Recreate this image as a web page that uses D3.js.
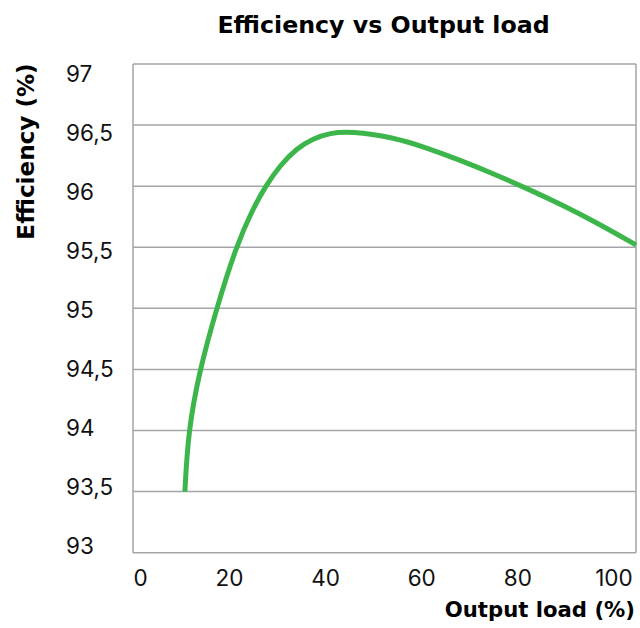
<!DOCTYPE html>
<html>
<head>
<meta charset="utf-8">
<script src="https://cdn.jsdelivr.net/npm/d3@7"></script>
<style>
  html, body { margin: 0; padding: 0; background: #fff; }
  svg { display: block; }
  text { font-family: "Inter", "Noto Sans", sans-serif; fill: #111; }
  text.bold { font-family: "DejaVu Sans", sans-serif; font-weight: 700; fill: #000; }
</style>
</head>
<body>
<svg id="chart" width="640" height="628"></svg>
<script>
// ---- data ----
const title = "Efficiency vs Output load";
const xTitle = "Output load (%)";
const yTitle = "Efficiency (%)";
const xTicks = [0, 20, 40, 60, 80, 100];
const yTicks = [97, 96.5, 96, 95.5, 95, 94.5, 94, 93.5, 93];
const loadPct = [10.8, 11.5, 13.9, 17.4, 21.4, 25.0, 27.6, 30.6, 34.1, 37.5, 41.0, 45.2, 54.2, 61.1, 68.1, 75.0, 82.2, 88.9, 95.8, 104.7];
const efficiency = [93.5, 94.0, 94.5, 95.0, 95.5, 95.82, 96.0, 96.17, 96.31, 96.39, 96.435, 96.45, 96.40, 96.314, 96.212, 96.102, 95.978, 95.854, 95.717, 95.52];

// ---- layout ----
const svg = d3.select("#chart");
const pLeft = 133, pRight = 636, pTop = 64, pBottom = 552.7;
const x = d3.scaleLinear().domain([0, 104.7]).range([pLeft, pRight]);
const y = d3.scaleLinear().domain([93, 97]).range([pBottom, pTop]);
const yLabel = d3.scaleLinear().domain([93, 97]).range([545, 73]);
const gridColor = "#a3a5a8";

// grid lines
svg.append("g").selectAll("line").data(yTicks).join("line")
  .attr("x1", pLeft).attr("x2", pRight)
  .attr("y1", d => y(d)).attr("y2", d => y(d))
  .attr("stroke", gridColor).attr("stroke-width", 1.5);

// frame: left, right
svg.append("line").attr("x1", pLeft).attr("x2", pLeft).attr("y1", pTop).attr("y2", pBottom)
  .attr("stroke", gridColor).attr("stroke-width", 1.5);
svg.append("line").attr("x1", pRight).attr("x2", pRight).attr("y1", pTop).attr("y2", pBottom)
  .attr("stroke", gridColor).attr("stroke-width", 1.5);

// y tick labels
const fmt = d => String(d).replace(".", ",");
svg.append("g").selectAll("text").data(yTicks).join("text")
  .attr("x", 66).attr("y", d => yLabel(d))
  .attr("dominant-baseline", "central")
  .attr("font-size", 22.5)
  .text(fmt);

// x tick labels
svg.append("g").selectAll("text").data(xTicks).join("text")
  .attr("x", d => d === 0 ? x(d) + 7.5 : x(d) + 0.5)
  .attr("y", 577)
  .attr("dominant-baseline", "central")
  .attr("text-anchor", "middle")
  .attr("font-size", 22.5)
  .text(d => d);

// curve
const pts = loadPct.map((l, i) => [l, efficiency[i]]);
svg.append("path").datum(pts)
  .attr("fill", "none")
  .attr("stroke", "#3cb64a")
  .attr("stroke-width", 5)
  .attr("d", d3.line().x(d => x(d[0])).y(d => y(d[1])).curve(d3.curveBasis));

// titles
svg.append("text").attr("class", "bold").attr("x", 383.5).attr("y", 25)
  .attr("text-anchor", "middle").attr("dominant-baseline", "central")
  .attr("font-size", 23.7).text(title);
svg.append("text").attr("class", "bold").attr("x", 635).attr("y", 609)
  .attr("text-anchor", "end").attr("dominant-baseline", "central")
  .attr("font-size", 21.2).text(xTitle);
svg.append("text").attr("class", "bold").attr("transform", "translate(26,151.5) rotate(-90)")
  .attr("text-anchor", "middle").attr("dominant-baseline", "central")
  .attr("font-size", 23.1).text(yTitle);
</script>
</body>
</html>
